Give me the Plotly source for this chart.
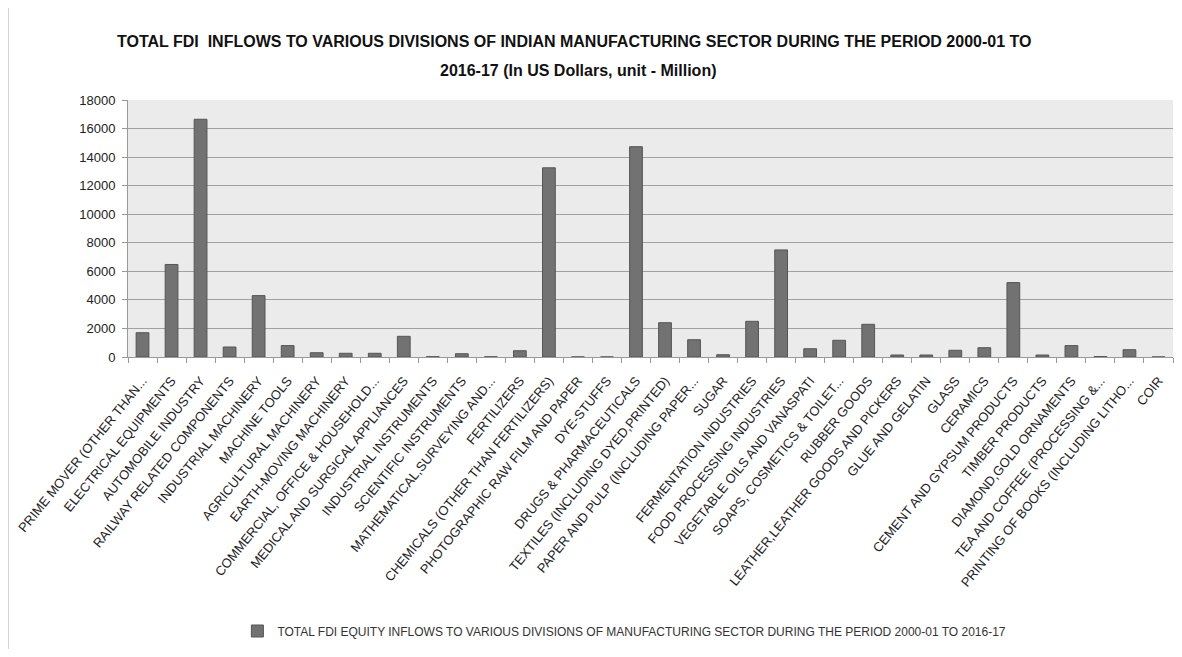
import plotly.graph_objects as go

categories = [
    "PRIME MOVER (OTHER THAN...",
    "ELECTRICAL EQUIPMENTS",
    "AUTOMOBILE INDUSTRY",
    "RAILWAY RELATED COMPONENTS",
    "INDUSTRIAL MACHINERY",
    "MACHINE TOOLS",
    "AGRICULTURAL MACHINERY",
    "EARTH-MOVING MACHINERY",
    "COMMERCIAL, OFFICE & HOUSEHOLD...",
    "MEDICAL AND SURGICAL APPLIANCES",
    "INDUSTRIAL INSTRUMENTS",
    "SCIENTIFIC INSTRUMENTS",
    "MATHEMATICAL,SURVEYING AND...",
    "FERTILIZERS",
    "CHEMICALS (OTHER THAN FERTILIZERS)",
    "PHOTOGRAPHIC RAW FILM AND PAPER",
    "DYE-STUFFS",
    "DRUGS & PHARMACEUTICALS",
    "TEXTILES (INCLUDING DYED,PRINTED)",
    "PAPER AND PULP (INCLUDING PAPER...",
    "SUGAR",
    "FERMENTATION INDUSTRIES",
    "FOOD PROCESSING INDUSTRIES",
    "VEGETABLE OILS AND VANASPATI",
    "SOAPS, COSMETICS & TOILET...",
    "RUBBER GOODS",
    "LEATHER,LEATHER GOODS AND PICKERS",
    "GLUE AND GELATIN",
    "GLASS",
    "CERAMICS",
    "CEMENT AND GYPSUM PRODUCTS",
    "TIMBER PRODUCTS",
    "DIAMOND,GOLD ORNAMENTS",
    "TEA AND COFFEE (PROCESSING &...",
    "PRINTING OF BOOKS (INCLUDING LITHO...",
    "COIR",
]

values = [
    1700, 6480, 16650, 700, 4300, 800, 300, 260, 260, 1450,
    20, 230, 15, 440, 13250, 5, 5, 14730, 2400, 1210,
    160, 2500, 7500, 580, 1170, 2290, 140, 140, 470, 650,
    5210, 140, 800, 30, 510, 5,
]

series_name = "TOTAL FDI EQUITY INFLOWS TO VARIOUS DIVISIONS OF MANUFACTURING SECTOR DURING THE PERIOD 2000-01 TO 2016-17"
title_line1 = "TOTAL FDI  INFLOWS TO VARIOUS DIVISIONS OF INDIAN MANUFACTURING SECTOR DURING THE PERIOD 2000-01 TO"
title_line2 = "2016-17 (In US Dollars, unit - Million)"
y_ticks = [0, 2000, 4000, 6000, 8000, 10000, 12000, 14000, 16000, 18000]
y_tick_labels = [str(v) for v in y_ticks]

FONT = "Liberation Sans, Arial, sans-serif"

# figure is offset by the 8px default body margin of the page
W, H = 1166, 641
L, R, T, B = 120, 1, 92, 292
PW, PH = W - L - R, H - T - B

fig = go.Figure()
fig.add_trace(go.Bar(
    x=categories, y=values, name=series_name,
    marker=dict(color="#727272", line=dict(color="#555555", width=1)),
    showlegend=True,
))

fig.update_layout(
    width=W, height=H,
    margin=dict(l=L, r=R, t=T, b=B),
    paper_bgcolor="white",
    plot_bgcolor="#ebebeb",
    bargap=0.56,
    font=dict(family=FONT, color="#222222"),
    showlegend=True,
    legend=dict(orientation="h", x=0.475, xanchor="center", y=-(623 - 349) / PH, yanchor="middle",
                font=dict(size=12, family=FONT, color="#333333"), itemwidth=30),
    xaxis=dict(
        tickangle=-51, tickfont=dict(size=13, family=FONT, color="#222222"),
        ticks="outside", tickson="boundaries", ticklen=5, tickcolor="#999999",
        ticklabelstandoff=10,
        showline=True, linecolor="#999999", linewidth=1,
        automargin=False, showgrid=False,
    ),
    yaxis=dict(
        range=[0, 18000], tickvals=y_ticks, ticktext=y_tick_labels,
        tickfont=dict(size=13, family=FONT, color="#222222"),
        showgrid=True, gridcolor="#a0a0a0", gridwidth=1,
        showline=True, linecolor="#999999", ticks="outside", ticklen=5, tickcolor="#999999",
        ticklabelstandoff=4,
        zeroline=False, automargin=False,
    ),
    annotations=[
        dict(text="<b>" + title_line1 + "</b>", xref="paper", yref="paper",
             x=(566 - L) / PW, y=1 + (T - 34) / PH, xanchor="center", yanchor="middle",
             showarrow=False, font=dict(size=16, family=FONT, color="#111111")),
        dict(text="<b>" + title_line2 + "</b>", xref="paper", yref="paper",
             x=(570 - L) / PW, y=1 + (T - 63) / PH, xanchor="center", yanchor="middle",
             showarrow=False, font=dict(size=16, family=FONT, color="#111111")),
    ],
    shapes=[dict(type="line", xref="paper", yref="paper", x0=-L / PW, x1=-L / PW,
                 y0=-(642 - 349) / PH, y1=1 + T / PH, line=dict(color="#aaaaaa", width=1))],
)

fig.write_html("out.html")
